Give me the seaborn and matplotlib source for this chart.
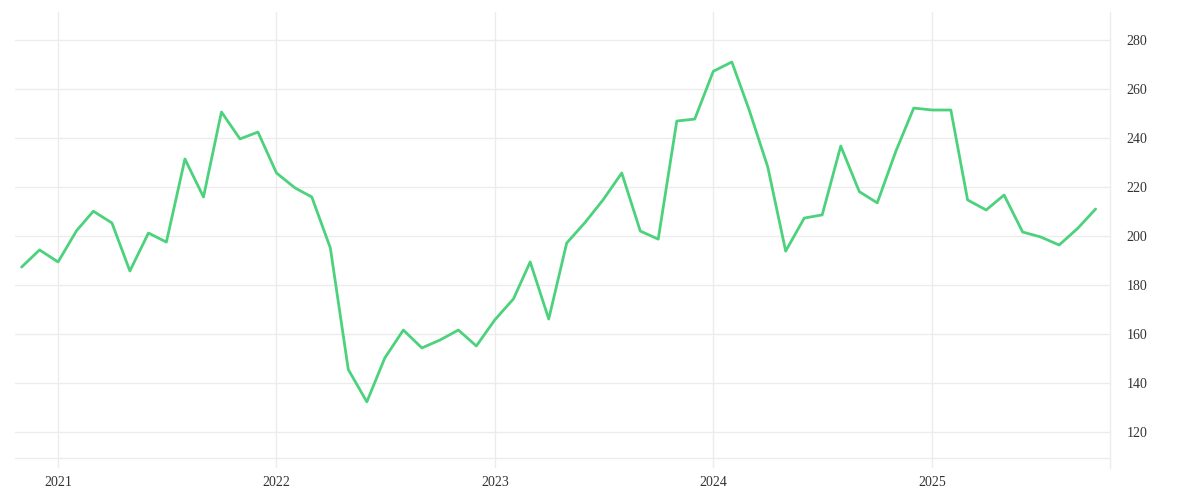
import pandas as pd
import numpy as np
import matplotlib
matplotlib.use("Agg")
import matplotlib.pyplot as plt
import matplotlib.dates as mdates
import seaborn as sns

# monthly values, Nov 2020 .. Oct 2025
months = pd.date_range("2020-11-01", "2025-10-01", freq="MS")
values = [
    187.3, 194.3, 189.4, 202.2, 210.1, 205.3, 185.7, 201.2, 197.5, 231.4, 215.9, 250.6,
    239.6, 242.4, 225.7, 219.6, 215.9, 195.1, 145.5, 132.3, 150.2, 161.6, 154.3, 157.5,
    161.6, 155.1, 165.8, 174.3, 189.4, 166.1, 197.1, 205.6, 214.8, 225.7, 202.0, 198.7,
    246.9, 247.7, 267.2, 271.0, 251.4, 228.2, 193.8, 207.3, 208.6, 236.7, 218.1, 213.5,
    234.5, 252.2, 251.4, 251.4, 214.7, 210.6, 216.7, 201.6, 199.6, 196.3, 203.1, 211.0,
]
yticks = [120, 140, 160, 180, 200, 220, 240, 260, 280]
years = ["2021", "2022", "2023", "2024", "2025"]

df = pd.DataFrame({"date": months, "value": values})

sns.set_style("white")
plt.rcParams["font.family"] = ["Liberation Serif", "DejaVu Serif"]

grid_c = "#ececec"
fig = plt.figure(figsize=(12, 5), dpi=100)
ax = fig.add_axes([0.0125, 0.064, 0.9125, 0.912])

sns.lineplot(data=df, x="date", y="value", color="#4cd27c", linewidth=2.0, ax=ax)

ax.set_xlim(pd.Timestamp("2020-10-21"), pd.Timestamp("2025-10-25"))
ax.set_ylim(105.3, 291.4)

ax.yaxis.tick_right()
ax.set_yticks(yticks)
ax.set_yticklabels([str(t) for t in yticks])
ax.set_xticks([pd.Timestamp(f"{y}-01-01") for y in years])
ax.set_xticklabels(years)

ax.grid(True, color=grid_c, linewidth=1.0)
ax.set_axisbelow(True)
ax.set_xlabel("")
ax.set_ylabel("")

for s in ["left", "top"]:
    ax.spines[s].set_visible(False)
ax.spines["right"].set_color(grid_c)
ax.spines["right"].set_linewidth(1.0)
ax.spines["bottom"].set_color(grid_c)
ax.spines["bottom"].set_linewidth(1.0)
ax.spines["bottom"].set_position(("data", 109.4))

ax.tick_params(axis="x", length=0, pad=13, labelsize=10, labelcolor="#333333")
ax.tick_params(axis="y", length=0, pad=12, labelsize=10, labelcolor="#333333")

fig.savefig("out.png", dpi=100)
